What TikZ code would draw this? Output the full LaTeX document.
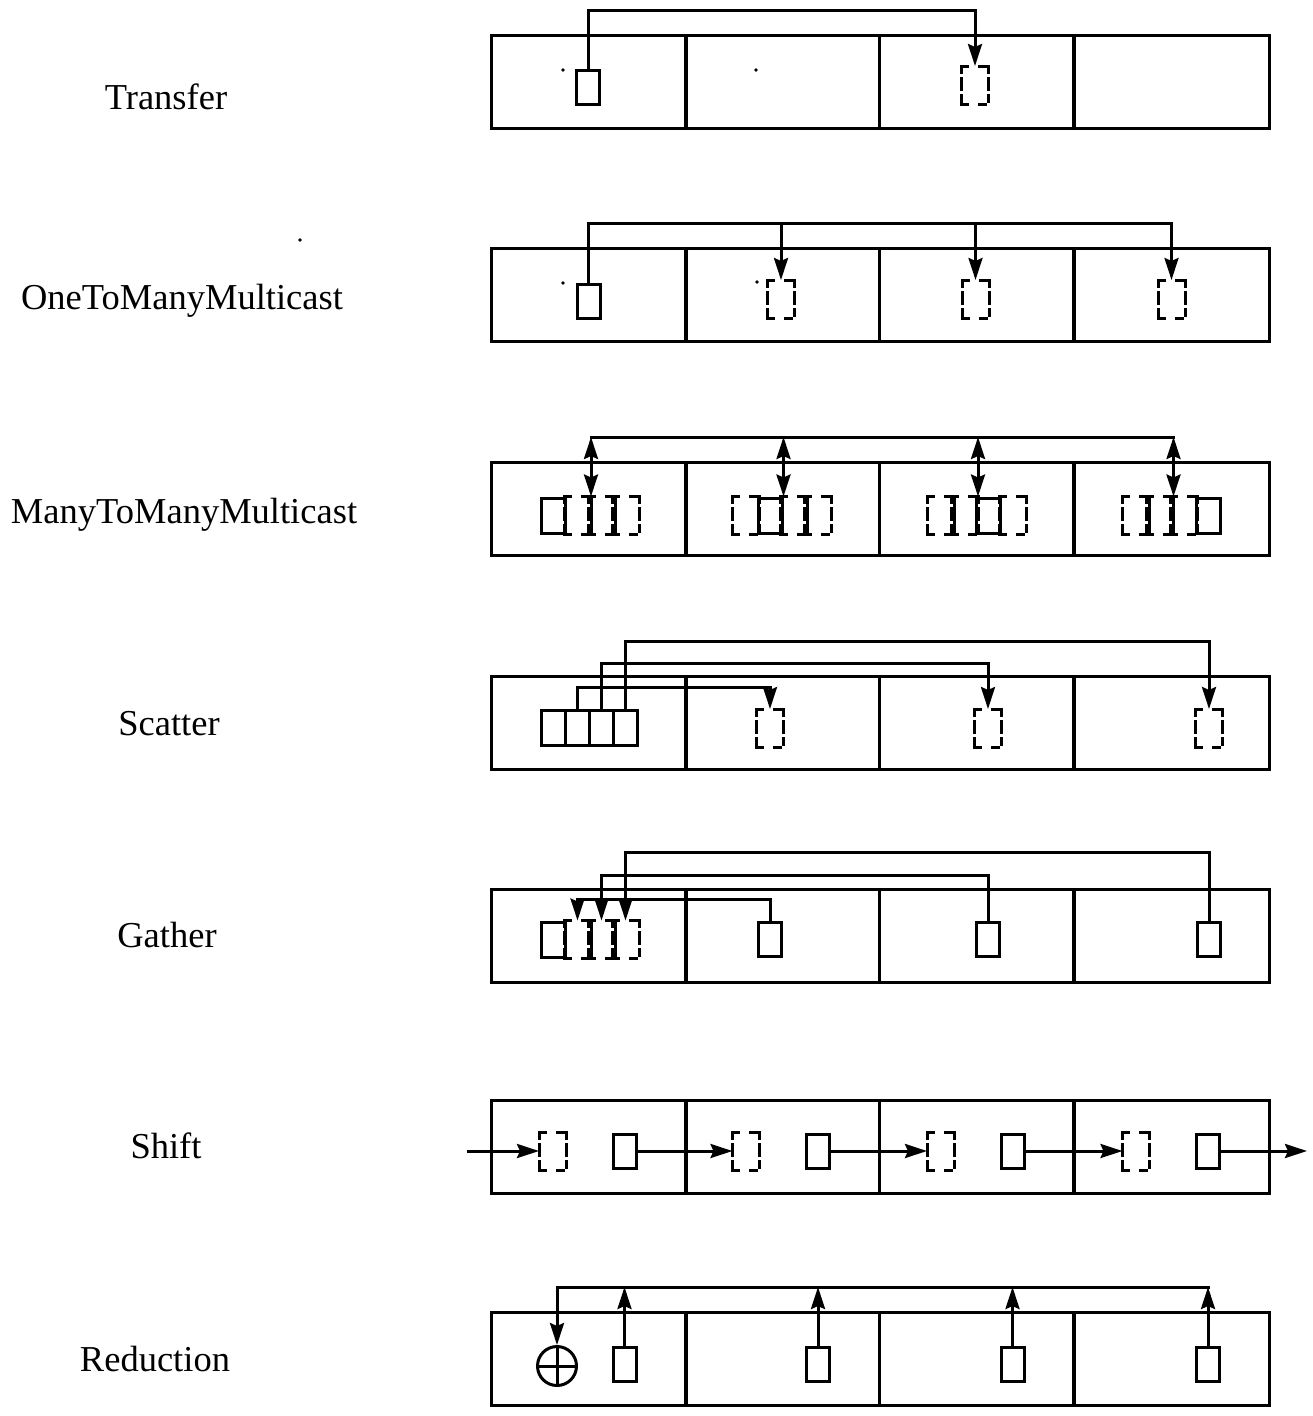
\documentclass[tikz,border=0pt]{standalone}
\usepackage{fontspec}
\setmainfont{Liberation Serif}
\usetikzlibrary{arrows.meta}

% four dashed sides of a (non-drawn) box node
\newcommand\dsides[1]{%
  \draw[vdash] (#1.north west) -- (#1.south west);
  \draw[vdash] (#1.north east) -- (#1.south east);
  \draw[hdash] (#1.north west) -- (#1.north east);
  \draw[hdash] (#1.south west) -- (#1.south east);}

% one row of four processor cells, names #1 1..4, centre y #2
\newcommand\cellrow[2]{%
  \foreach \i/\cx in {1/588.75,2/782.25,3/976.5,4/1172}{\node[cell] (#1\i) at (\cx,#2) {};}}

\begin{document}
\begin{tikzpicture}[x=1pt,y=-1pt,line width=3pt,line join=miter,
  cell/.style={draw,rectangle,minimum width=194.5pt,minimum height=93pt,inner sep=0pt},
  sbox/.style={draw,rectangle,minimum width=23pt,minimum height=34pt,inner sep=0pt},
  dbox/.style={rectangle,minimum width=24pt,minimum height=35pt,inner sep=0pt},
  gsolid/.style={draw,rectangle,minimum width=24pt,minimum height=35pt,inner sep=0pt},
  vdash/.style={line cap=rect,dash pattern=on 6pt off 6pt on 11pt off 6pt on 6pt},
  hdash/.style={line cap=rect,dash pattern=on 6pt off 12pt on 6pt},
  tip/.tip={Stealth[length=22pt,width=14pt,inset=3pt]},
  arr/.style={-tip},
  darr/.style={tip-tip},
  lbl/.style={anchor=base,inner sep=0pt,font=\fontsize{36.5pt}{44pt}\selectfont},
  spot/.style={fill=black}]
\useasboundingbox (0,0) rectangle (1313,1416);

% ---------------- labels ----------------
\node[lbl] (ltr) at (166,109) {Transfer};
\node[lbl] (lom) at (182,309) {OneToManyMulticast};
\node[lbl] (lmm) at (184,523) {ManyToManyMulticast};
\node[lbl] (lsc) at (169,735) {Scatter};
\node[lbl] (lga) at (167,947) {Gather};
\node[lbl] (lsh) at (166,1158) {Shift};
\node[lbl] (lre) at (155,1371) {Reduction};

% ---------------- Transfer ----------------
\cellrow{tr}{81.5}
\node[sbox] (tsrc) at (588,87) {};
\node[dbox] (tdst) at (975,85) {};
\dsides{tdst}
\coordinate (tbus) at (0,10);
\draw[arr] (tsrc.north) -- (tsrc.north |- tbus) -| (tdst.north);
\fill[spot] (563,70) circle (1.8pt);
\fill[spot] (756,70) circle (1.8pt);

% ---------------- OneToManyMulticast ----------------
\cellrow{om}{294.5}
\node[sbox] (osrc) at (588.5,301) {};
\node[dbox] (od2) at (781,299) {};
\node[dbox] (od3) at (975.5,299) {};
\node[dbox] (od4) at (1171.5,299) {};
\dsides{od2}\dsides{od3}\dsides{od4}
\coordinate (obus) at (0,223);
\draw[arr] (osrc.north) -- (osrc.north |- obus) -| (od4.north);
\draw[arr] (od2.north |- obus) -- (od2.north);
\draw[arr] (od3.north |- obus) -- (od3.north);
\fill[spot] (563,283) circle (1.8pt);
\fill[spot] (757,282) circle (1.8pt);
\fill[spot] (300,240) circle (1.8pt);

% ---------------- ManyToManyMulticast ----------------
\cellrow{mm}{508.5}
\foreach \k/\gx in {1/589.5,2/782,3/976.5,4/1172}{
  \foreach \i/\dx in {1/-36,2/-12,3/12,4/36}{
    \ifnum\i=\k
      \node[gsolid] (m\k\i) at (\gx+\dx,515.5) {};
    \else
      \node[dbox] (m\k\i) at (\gx+\dx,515.5) {};
      \dsides{m\k\i}
    \fi
  }
  % edges shared by two dashed boxes print as one solid stroke
  \foreach \i/\j in {1/2,2/3,3/4}{
    \ifnum\i=\k\else\ifnum\j=\k\else
      \draw (m\k\i.north east) -- (m\k\i.south east);
    \fi\fi
  }
}
\coordinate (mbus) at (0,437);
\draw[line cap=rect] (m12.north east |- mbus) -- (m42.north east |- mbus);
\foreach \k in {1,2,3,4}{
  \draw[darr] (m\k2.north east |- mbus) -- (m\k2.north east);
}

% ---------------- Scatter ----------------
\cellrow{sc}{722.5}
\foreach \i/\dx in {1/-36,2/-12,3/12,4/36}{
  \node[gsolid] (s\i) at (589.5+\dx,728) {};
}
\node[dbox] (sd2) at (770,728) {};
\node[dbox] (sd3) at (988,728) {};
\node[dbox] (sd4) at (1209,728) {};
\dsides{sd2}\dsides{sd3}\dsides{sd4}
\coordinate (sb2) at (0,687);
\coordinate (sb3) at (0,663);
\coordinate (sb4) at (0,641);
\draw[arr] (s2.north) -- (s2.north |- sb2) -| (sd2.north);
\draw[arr] (s3.north) -- (s3.north |- sb3) -| (sd3.north);
\draw[arr] (s4.north) -- (s4.north |- sb4) -| (sd4.north);

% ---------------- Gather ----------------
\cellrow{ga}{935.5}
\foreach \i/\dx in {2/-12,3/12,4/36}{
  \node[dbox] (g\i) at (589.5+\dx,939.5) {};
  \dsides{g\i}
}
\draw (g2.north east) -- (g2.south east);
\draw (g3.north east) -- (g3.south east);
\node[gsolid] (g1) at (553.5,939.5) {};
\node[sbox] (gs2) at (770,939.5) {};
\node[sbox] (gs3) at (988,939.5) {};
\node[sbox] (gs4) at (1209,939.5) {};
\coordinate (gb2) at (0,899);
\coordinate (gb3) at (0,875);
\coordinate (gb4) at (0,852);
\draw[arr] (gs2.north) -- (gs2.north |- gb2) -| (g2.north);
\draw[arr] (gs3.north) -- (gs3.north |- gb3) -| (g3.north);
\draw[arr] (gs4.north) -- (gs4.north |- gb4) -| (g4.north);

% ---------------- Shift ----------------
\cellrow{sh}{1146.5}
\foreach \k/\cx in {1/588.5,2/782,3/976.5,4/1172}{
  \node[dbox] (hd\k) at (\cx-36,1151) {};
  \dsides{hd\k}
  \node[sbox] (hs\k) at (\cx+36,1151) {};
}
\coordinate (hin) at (467,1151);
\coordinate (hout) at (1307,1151);
\draw[arr] (hin) -- (hd1.west);
\draw[arr] (hs1.east) -- (hd2.west);
\draw[arr] (hs2.east) -- (hd3.west);
\draw[arr] (hs3.east) -- (hd4.west);
\draw[arr] (hs4.east) -- (hout);

% ---------------- Reduction ----------------
\cellrow{re}{1359}
\foreach \k/\cx in {1/588.5,2/782,3/976.5,4/1172}{
  \node[sbox] (rb\k) at (\cx+36,1364.5) {};
}
\node[draw,circle,minimum size=39pt,inner sep=0pt] (op) at (557,1366) {};
\draw (op.north) -- (op.south);
\draw (op.west) -- (op.east);
\coordinate (rbus) at (0,1287);
\draw[line cap=rect] (op.north |- rbus) -- (rb4.north |- rbus);
\draw[arr] (op.north |- rbus) -- (op.north);
\foreach \k in {1,2,3,4}{
  \draw[arr] (rb\k.north) -- (rb\k.north |- rbus);
}
\end{tikzpicture}
\end{document}
